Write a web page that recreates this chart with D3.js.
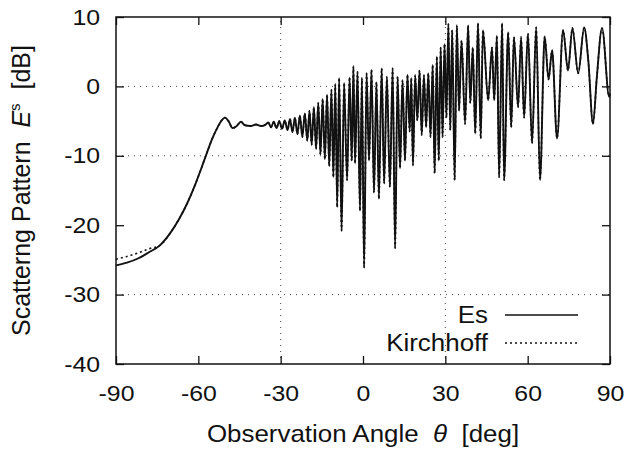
<!DOCTYPE html>
<html>
<head>
<meta charset="utf-8">
<script src="https://cdn.jsdelivr.net/npm/d3@7"></script>
<style>
  body { margin: 0; background: #fff; }
  text { font-family: "Liberation Sans", Arial, Helvetica, sans-serif; fill: #111; }
</style>
</head>
<body>
<div id="chart"></div>
<script>
const xTicks = [-90, -60, -30, 0, 30, 60, 90];
const yTicks = [-40, -30, -20, -10, 0, 10];
const gridX = [-30, 30];
const gridY = [0, -10, -30];
const seriesNames = ['Es', 'Kirchhoff'];

// [angle deg, dB]
const esRise = [
  [-90, -25.8], [-86, -25.4], [-82, -24.8], [-78, -23.9], [-74, -22.9], [-70, -21.0],
  [-67, -19.1], [-64, -16.8], [-61, -14.0], [-59, -11.9], [-57, -9.7], [-55, -7.6],
  [-53, -5.9], [-51.5, -4.9], [-50.3, -4.5], [-49, -5.0], [-47.5, -6.0], [-46, -5.7],
  [-44.5, -5.1], [-43, -5.6], [-41, -5.7], [-39, -5.5], [-37, -5.7], [-35.5, -5.5],
];

const esLobes = [
  [-34.5, -5.2], [-33.5, -5.9], [-32.5, -5.1], [-31.5, -6.0], [-30.5, -5.0], [-29.5, -6.1],
  [-28.5, -4.9], [-27.5, -6.3], [-26.6, -4.7], [-25.7, -6.6], [-24.8, -4.5], [-23.9, -6.9],
  [-23.0, -4.2], [-22.1, -7.3], [-21.2, -3.9], [-20.3, -7.8], [-19.5, -3.5], [-18.7, -8.4],
  [-17.9, -3.0], [-17.1, -9.0], [-16.3, -2.4], [-15.5, -9.8], [-14.7, -1.8], [-13.9, -10.5],
  [-13.1, -1.2], [-12.3, -11.5], [-11.5, -0.5], [-10.8, -13.1], [-10.1, 0.3], [-9.4, -17.4],
  [-8.7, 1.2], [-7.8, -20.8], [-6.9, 0.5], [-5.8, -13.5], [-4.9, 1.3], [-4.1, -10.7],
  [-3.5, 2.9], [-2.9, -11.1], [-2.0, 2.1], [-1.1, -17.9], [-0.4, 1.2], [0.4, -26.1],
  [1.3, 1.9], [2.2, -10.7], [3.1, 2.4], [4.0, -15.3], [4.9, 0.6], [5.8, -16.2],
  [6.8, 2.6], [7.7, -14.0], [8.7, 1.4], [9.8, -14.5], [10.8, 2.6], [11.7, -23.3],
  [12.6, 1.4], [13.5, -11.8], [14.4, 0.9], [15.3, -10.7], [16.2, 1.7], [17.0, -6.5],
  [17.6, 1.2], [18.2, -11.4], [19.0, 1.6], [19.8, -4.9], [20.6, 2.3], [21.4, -7.0],
  [22.2, 1.6], [23.0, -5.9], [23.8, 1.9], [24.6, -7.3], [25.4, 3.1], [26.1, -12.5],
  [26.9, 4.3], [27.6, -10.7], [28.3, 5.6], [29.0, -7.3], [29.7, 6.1], [30.4, -4.5],
  [31.1, 9.0], [31.8, -6.3], [32.5, 8.1], [33.4, -13.5], [34.2, 8.8], [35.0, -3.5],
  [35.9, 6.6], [37.2, -5.4], [38.3, 8.8], [39.1, -2.4], [40.0, 5.6], [40.9, -6.8],
  [41.9, 9.1], [42.9, -7.5], [43.7, 8.1], [45.6, -2.0], [47.0, 5.6], [47.8, -2.0],
  [48.8, 7.3], [49.6, -13.1], [50.7, 9.1], [51.4, -13.5], [52.9, 7.8], [54.0, -5.9],
  [55.0, 7.1], [56.5, -3.0], [57.6, 7.1], [58.7, -4.5], [60.1, 7.6], [61.6, -8.2],
  [63.1, 8.5], [64.5, -13.5], [66.2, 7.2], [67.6, 1.0], [68.9, 5.2], [70.7, -7.5],
  [72.9, 8.1], [74.7, 2.3], [76.3, 8.4], [78.4, 1.9], [80.6, 8.5], [82.1, 3.7],
  [83.8, -5.4], [85.2, 1.3], [87.1, 8.4], [89.7, -1.5], [90, -1.0],
];

const kirchhoffLeft = [
  [-90, -24.9], [-86, -24.5], [-82, -24.0], [-78, -23.4],
];

const es = esRise.concat(esLobes);
const kirchhoff = kirchhoffLeft.concat(es.filter((d) => d[0] >= -74));

const width = 625;
const height = 452;
const margin = { top: 17, right: 15, bottom: 88, left: 116 };
const stretch = 1.13; // the figure's lettering is a little wide

const svg = d3.select('#chart').append('svg')
  .attr('width', width)
  .attr('height', height)
  .style('background', '#fff');

const x = d3.scaleLinear().domain([-90, 90]).range([margin.left, width - margin.right]);
const y = d3.scaleLinear().domain([-40, 10]).range([height - margin.bottom, margin.top]);

// grid
svg.append('g').selectAll('line')
  .data(gridX)
  .enter().append('line')
  .attr('x1', (d) => x(d)).attr('x2', (d) => x(d))
  .attr('y1', y(-40)).attr('y2', y(10))
  .attr('stroke', '#444').attr('stroke-width', 1)
  .attr('stroke-dasharray', '1,5');

svg.append('g').selectAll('line')
  .data(gridY)
  .enter().append('line')
  .attr('x1', x(-90)).attr('x2', x(90))
  .attr('y1', (d) => y(d)).attr('y2', (d) => y(d))
  .attr('stroke', '#444').attr('stroke-width', 1)
  .attr('stroke-dasharray', '1,5');

// axes, ticks pointing inward and mirrored
const fmt = (d) => String(d);
svg.append('g')
  .attr('transform', `translate(0,${y(-40)})`)
  .call(d3.axisBottom(x).tickValues(xTicks).tickFormat(fmt)
    .tickSizeInner(-8).tickSizeOuter(0).tickPadding(21));
svg.append('g')
  .attr('transform', `translate(0,${y(10)})`)
  .call(d3.axisTop(x).tickValues(xTicks).tickSizeInner(-8).tickSizeOuter(0).tickFormat(''));
svg.append('g')
  .attr('transform', `translate(${x(-90)},0)`)
  .call(d3.axisLeft(y).tickValues(yTicks).tickFormat(fmt)
    .tickSizeInner(-8).tickSizeOuter(0).tickPadding(14));
svg.append('g')
  .attr('transform', `translate(${x(90)},0)`)
  .call(d3.axisRight(y).tickValues(yTicks).tickSizeInner(-8).tickSizeOuter(0).tickFormat(''));

svg.selectAll('.domain').remove();
svg.selectAll('.tick line').attr('stroke', '#111').attr('stroke-width', 1.3);
svg.selectAll('.tick text')
  .style('font-family', '"Liberation Sans", Arial, sans-serif')
  .style('font-size', '22px')
  .attr('fill', '#111')
  .attr('transform', `scale(${stretch},1)`);

svg.append('rect')
  .attr('x', x(-90)).attr('y', y(10))
  .attr('width', x(90) - x(-90)).attr('height', y(-40) - y(10))
  .attr('fill', 'none').attr('stroke', '#111').attr('stroke-width', 1.5);

// curves
const line = d3.line()
  .x((d) => x(d[0]))
  .y((d) => y(d[1]))
  .curve(d3.curveMonotoneX);

svg.append('path')
  .datum(kirchhoff)
  .attr('d', line)
  .attr('fill', 'none').attr('stroke', '#111').attr('stroke-width', 1.6)
  .attr('stroke-dasharray', '2,3');

svg.append('path')
  .datum(es)
  .attr('d', line)
  .attr('fill', 'none').attr('stroke', '#111').attr('stroke-width', 1.9)
  .attr('stroke-linejoin', 'round');

// legend
const legend = svg.append('g');
seriesNames.forEach((name, i) => {
  const ly = 315 + i * 28;
  legend.append('text')
    .attr('transform', `translate(488,${ly + 8}) scale(1.08,1)`)
    .attr('text-anchor', 'end')
    .style('font-size', '24px')
    .text(name);
  legend.append('line')
    .attr('x1', 505).attr('x2', 578)
    .attr('y1', ly).attr('y2', ly)
    .attr('stroke', '#111').attr('stroke-width', 1.5)
    .attr('stroke-dasharray', i === 0 ? null : '2,3');
});

// axis titles
svg.append('text')
  .attr('transform', `translate(${(x(-90) + x(90)) / 2},442) scale(1.08,1)`)
  .attr('text-anchor', 'middle')
  .style('font-size', '24px')
  .html('Observation Angle&#160;&#160;<tspan font-style="italic">θ</tspan>&#160;&#160;[deg]');

svg.append('text')
  .attr('transform', `translate(30,${(y(10) + y(-40)) / 2}) rotate(-90)`)
  .attr('text-anchor', 'middle')
  .style('font-size', '25px')
  .html('Scatterng Pattern&#160;&#160;<tspan font-style="italic">E</tspan><tspan dy="-10" font-size="15px">s</tspan><tspan dy="10">&#160;&#160;[dB]</tspan>');
</script>
</body>
</html>
